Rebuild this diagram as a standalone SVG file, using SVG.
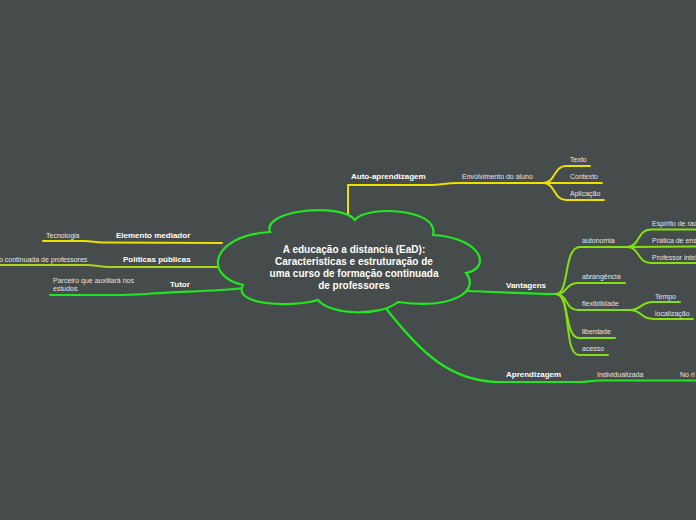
<svg xmlns="http://www.w3.org/2000/svg" width="696" height="520" viewBox="0 0 696 520">
<style>
.t{font-family:"Liberation Sans",Arial,sans-serif;font-size:7px;fill:#e4e4e4}
.b{font-family:"Liberation Sans",Arial,sans-serif;font-size:8px;font-weight:bold;fill:#ffffff}
.c{font-family:"Liberation Sans",Arial,sans-serif;font-size:10px;font-weight:bold;fill:#ffffff;text-anchor:middle}
.l{fill:none;stroke-linecap:round}
.y{stroke:#ece000;stroke-width:2}
.g{stroke:#22e622;stroke-width:2.2}
.lg{stroke:#84e010;stroke-width:2}
.o{stroke:#a8d41a;stroke-width:2}
</style>
<rect width="696" height="520" fill="#464b4b"/>
<g id="connectors">
<path class="l y" d="M348,216 L348,185 L430,185 C442,185 445,183 457,183 L543,183"/>
<path class="l y" d="M543,183 C556,183 553,166 566,166 L590,166"/>
<path class="l y" d="M543,183 L602,183"/>
<path class="l y" d="M543,183 C556,183 553,200 566,200 L604,200"/>
<path class="l y" d="M222,243 L102,242.5 C95,242.5 92,241 84,241 L43,241"/>
<path class="l o" d="M234,267 L110,267 C100,267 96,265 86,265 L-2,265"/>
<path class="l g" d="M245,288 C210,292 180,291 152,293.5 C140,294.5 130,295 110,295 L50,295"/>
<path class="l g" d="M466,291 C500,292 530,294 556,294"/>
<path class="l lg" d="M556,294 C570,294 563,247 580,247 L627,247"/>
<path class="l lg" d="M556,294 C568,294 565,283 578,283 L625,283"/>
<path class="l lg" d="M556,294 C568,294 565,310 578,310 L630,310"/>
<path class="l lg" d="M556,294 C570,294 564,338 579,338 L615,338"/>
<path class="l lg" d="M556,294 C572,294 563,355 579,355 L608,355"/>
<path class="l lg" d="M627,247 C640,247 637,229.5 651,229.5 L700,229.5"/>
<path class="l lg" d="M627,247 L700,246.5"/>
<path class="l lg" d="M627,247 C640,247 637,263 651,263 L700,263"/>
<path class="l lg" d="M630,310 C642,310 640,302 653,302 L680,302"/>
<path class="l lg" d="M630,310 C642,310 640,319 653,319 L693,319"/>
<path class="l g" d="M384,306 C420,352 450,382 500,382 L580,382 C588,382 590,380.5 600,380.5 L700,380.5"/>
</g>
<g id="central">
<path d="M270,232 C262,210 340,202 355,220 C365,205 440,208 433,235 C482,238 492,268 466,273 C480,290 455,310 398,302 C380,317 330,315 318,300 C290,308 232,305 243,285 C203,276 210,236 270,232 Z" fill="#464b4b" stroke="#22e622" stroke-width="2.2"/>
<text class="c" x="354" y="252.5">A educação a distancia (EaD):</text>
<text class="c" x="354" y="264.5">Caracteristicas e estruturação de</text>
<text class="c" x="354" y="276.5">uma curso de formação continuada</text>
<text class="c" x="354" y="288.5">de professores</text>
</g>
<g id="auto-aprendizagem"><text class="b" x="351" y="179">Auto-aprendizagem</text></g>
<g id="envolvimento"><text class="t" x="462" y="178.5">Envolvimento do aluno</text></g>
<g id="texto"><text class="t" x="570" y="161.5">Texto</text></g>
<g id="contexto"><text class="t" x="570" y="178.5">Contexto</text></g>
<g id="aplicacao"><text class="t" x="570" y="195.5">Aplicação</text></g>
<g id="elemento-mediador"><text class="b" x="116" y="238">Elemento mediador</text></g>
<g id="tecnologia"><text class="t" x="46" y="237.5">Tecnologia</text></g>
<g id="politicas"><text class="b" x="123" y="262">Políticas públicas</text></g>
<g id="formacao"><text class="t" x="-1" y="261.5">o continuada de professores</text></g>
<g id="tutor"><text class="b" x="170" y="287">Tutor</text></g>
<g id="parceiro"><text class="t" x="53" y="282.5">Parceiro que auxiliará nos</text><text class="t" x="53" y="291">estudos</text></g>
<g id="vantagens"><text class="b" x="506" y="288">Vantagens</text></g>
<g id="autonomia"><text class="t" x="582" y="243">autonomia</text></g>
<g id="espirito"><text class="t" x="652" y="225.5">Espírito de rac</text></g>
<g id="pratica"><text class="t" x="652" y="242.5">Prática de ens</text></g>
<g id="professor"><text class="t" x="652" y="259.5">Professor intel</text></g>
<g id="abrangencia"><text class="t" x="582" y="278.5">abrangência</text></g>
<g id="flexibilidade"><text class="t" x="582" y="305.5">flexibilidade</text></g>
<g id="tempo"><text class="t" x="655" y="298.5">Tempo</text></g>
<g id="localizacao"><text class="t" x="655" y="315.5">localização</text></g>
<g id="liberdade"><text class="t" x="582" y="333.5">liberdade</text></g>
<g id="acesso"><text class="t" x="582" y="350.5">acesso</text></g>
<g id="aprendizagem"><text class="b" x="506" y="377">Aprendizagem</text></g>
<g id="individualizada"><text class="t" x="597" y="376.5">Individualizada</text></g>
<g id="ritmo"><text class="t" x="680" y="376.5">No ri</text></g>
</svg>
